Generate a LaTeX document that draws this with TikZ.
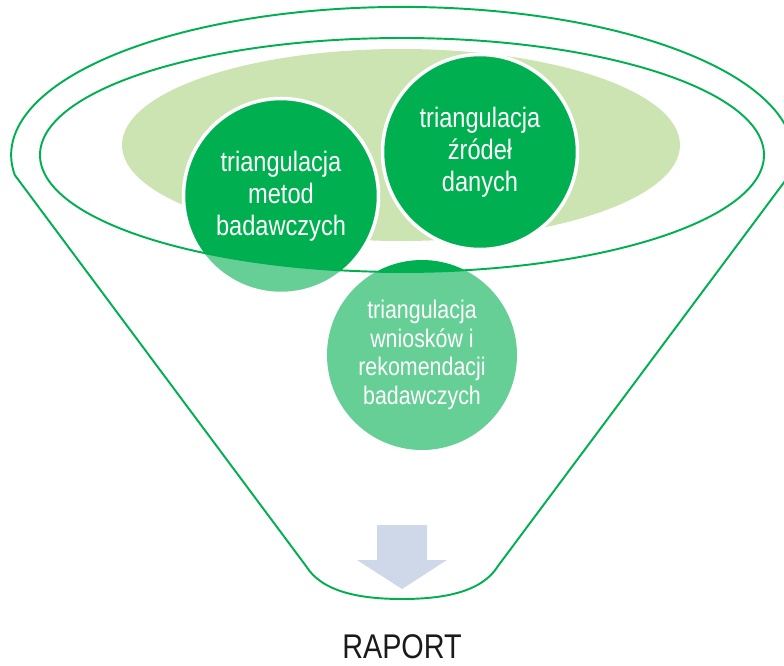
\documentclass[tikz,border=0pt]{standalone}
\usepackage{fontspec}
\setmainfont{Liberation Sans}[FakeStretch=0.84]
\usepackage{tikz}
\usetikzlibrary{positioning}
\definecolor{trgreen}{RGB}{0,176,80}
\definecolor{trlight}{RGB}{204,228,178}
\definecolor{trarrow}{RGB}{207,216,232}
\definecolor{trtext}{RGB}{26,26,26}

\begin{document}
\begin{tikzpicture}[x=0.2mm, y=0.2mm,
    bubble/.style={circle, fill=trgreen, draw=white, line width=2pt,
      minimum size=39mm, inner sep=0pt, align=center, text=white,
      font=\fontsize{16}{18.2}\selectfont},
    funnelline/.style={draw=trgreen, line width=1.1pt}]
        \useasboundingbox (0,0) rectangle (784,-666);
        % rim filling
        \fill[trlight] (401,-145) ellipse [x radius=279, y radius=96];
        % circles
        \node[bubble] (metody) at (281,-196) {};
        \node[bubble] (zrodla) at (480,-152) {};
        \node[bubble, draw=none, minimum size=38mm] (wnioski) at (422,-355) {};
        % body of the funnel, lighter
        \fill[white, fill opacity=0.4, even odd rule]
          (0,0) rectangle (784,-666)
          (402,-155) ellipse [x radius=362, y radius=117];
        % rims
        \draw[funnelline] (402,-155) ellipse [x radius=362, y radius=117];
        \draw[funnelline, line join=round] (789.5,-175)
          arc [start angle=-7.8, end angle=187.8, x radius=391, y radius=148]
          -- (306,-566) .. controls (322,-592) and (360,-599) .. (402,-599)
          .. controls (444,-599) and (482,-592) .. (498,-566) -- cycle;
        % arrow to the report
        \fill[trarrow] (377,-525) -- (427,-525) -- (427,-560) -- (447,-560)
          -- (402,-589) -- (357,-560) -- (377,-560) -- cycle;
        % texts
        \node[align=center, text=white, font=\fontsize{16}{18.2}\selectfont]
          at (metody) {triangulacja\\metod\\badawczych};
        \node[align=center, text=white, font=\fontsize{16}{18.2}\selectfont]
          at (zrodla) {triangulacja\\źródeł\\danych};
        \node[align=center, text=white, font=\fontsize{14.5}{16.2}\selectfont]
          at (wnioski) {triangulacja\\wniosków i\\rekomendacji\\badawczych};
        \node[text=trtext, font=\fontsize{19.5}{21}\selectfont] (raport)
          at (402,-647) {RAPORT};
      \end{tikzpicture}
\end{document}
